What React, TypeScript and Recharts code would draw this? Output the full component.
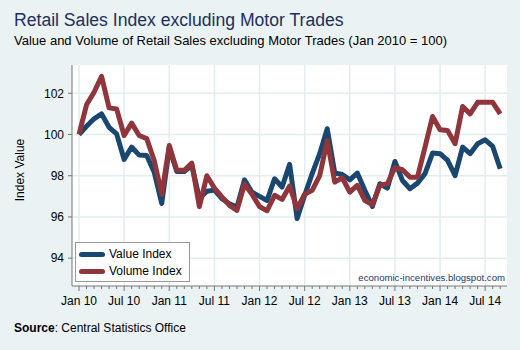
import React from "react";
import { LineChart, Line, XAxis, YAxis, CartesianGrid } from "recharts";

// monthly, Jan 2010 .. Sep 2014
const months = [
    "Jan 10", "Feb 10", "Mar 10", "Apr 10", "May 10", "Jun 10", "Jul 10", "Aug 10", "Sep 10", "Oct 10", "Nov 10", "Dec 10",
    "Jan 11", "Feb 11", "Mar 11", "Apr 11", "May 11", "Jun 11", "Jul 11", "Aug 11", "Sep 11", "Oct 11", "Nov 11", "Dec 11",
    "Jan 12", "Feb 12", "Mar 12", "Apr 12", "May 12", "Jun 12", "Jul 12", "Aug 12", "Sep 12", "Oct 12", "Nov 12", "Dec 12",
    "Jan 13", "Feb 13", "Mar 13", "Apr 13", "May 13", "Jun 13", "Jul 13", "Aug 13", "Sep 13", "Oct 13", "Nov 13", "Dec 13",
    "Jan 14", "Feb 14", "Mar 14", "Apr 14", "May 14", "Jun 14", "Jul 14", "Aug 14", "Sep 14",
];

const valueIndex = [
    100, 100.4, 100.76, 101.0, 100.35, 100.03, 98.79, 99.39, 99.0, 98.98, 98.17, 96.65,
    99.35, 98.2, 98.2, 98.5, 96.9, 97.25, 97.3, 96.89, 96.64, 96.48, 97.8, 97.2,
    97.0, 96.8, 97.85, 97.45, 98.55, 95.92, 97.05, 98.1, 99.07, 100.28, 98.13, 98.06,
    97.8, 98.13, 97.29, 96.51, 97.61, 97.4, 98.69, 97.77, 97.37, 97.64, 98.1, 99.1,
    99.07, 98.74, 98.0, 99.39, 99.07, 99.55, 99.74, 99.42, 98.34,
];

const volumeIndex = [
    100, 101.44, 102.05, 102.82, 101.29, 101.24, 99.95, 100.55, 99.95, 99.8, 98.74, 97.1,
    99.47, 98.26, 98.26, 98.61, 96.5, 98.0, 97.4, 96.97, 96.56, 96.32, 97.6, 97.1,
    96.5, 96.3, 97.05, 96.85, 97.5, 96.4, 97.1, 97.29, 98.0, 99.7, 97.69, 97.9,
    97.2, 97.53, 96.8, 96.6, 97.53, 97.61, 98.39, 98.29, 97.93, 97.93, 99.39, 100.87,
    100.23, 100.19, 99.55, 101.36, 101.0, 101.56, 101.56, 101.56, 101.0,
];

const tickLabels = ["Jan 10", "Jul 10", "Jan 11", "Jul 11", "Jan 12", "Jul 12", "Jan 13", "Jul 13", "Jan 14", "Jul 14"];
const yTicks = [94, 96, 98, 100, 102];

const data = months.map((m, i) => ({ i, month: m, value: valueIndex[i], volume: volumeIndex[i] }));
const monthTicks = months.map((_, i) => i);
const majorTicks = months.map((m, i) => (tickLabels.includes(m) ? i : -1)).filter((i) => i >= 0);

const BG = "#eaf2f3";
const GRID = "#e3edf0";
const BLUE = "#1a476f";
const RED = "#90353b";
const FONT = "'Liberation Sans', Arial, sans-serif";

function MonthTick(props: any) {
    const { x, y, payload } = props;
    const label = months[payload.value];
    const major = tickLabels.includes(label);
    return (
        <g>
            <line x1={x} y1={y} x2={x} y2={y + (major ? 5 : 3)} stroke="#777" strokeWidth={1} />
            {major && (
                <text x={x} y={y + 19} textAnchor="middle" fontSize={12} fill="#000" fontFamily={FONT}>
                    {label}
                </text>
            )}
        </g>
    );
}

export default function App() {
    return (
        <div
            style={{
                position: "absolute",
                left: 0,
                top: 0,
                width: 520,
                height: 350,
                background: BG,
                fontFamily: FONT,
                overflow: "hidden",
            }}
        >
            <div style={{ position: "absolute", left: 14, top: 10, fontSize: 17.6, color: "#1c2f5a", whiteSpace: "nowrap" }}>
                Retail Sales Index excluding Motor Trades
            </div>
            <div style={{ position: "absolute", left: 14, top: 33, fontSize: 13, color: "#000", whiteSpace: "nowrap" }}>
                Value and Volume of Retail Sales excluding Motor Trades (Jan 2010 = 100)
            </div>

            <LineChart width={520} height={350} data={data} margin={{ top: 65, right: 13, bottom: 0, left: 12 }}>
                <CartesianGrid
                    fill="#ffffff"
                    stroke={GRID}
                    strokeWidth={1.5}
                    horizontalValues={yTicks}
                    verticalValues={majorTicks}
                />
                <XAxis
                    dataKey="i"
                    type="number"
                    domain={[-0.93, 56.9]}
                    ticks={monthTicks}
                    interval={0}
                    height={64}
                    tickSize={0}
                    tickMargin={0}
                    tick={<MonthTick />}
                    tickLine={false}
                    axisLine={{ stroke: "#777" }}
                    allowDataOverflow
                />
                <YAxis
                    type="number"
                    domain={[92.65, 103.37]}
                    ticks={yTicks}
                    width={60}
                    tickSize={4}
                    tickMargin={4}
                    tickLine={{ stroke: "#777" }}
                    axisLine={{ stroke: "#777" }}
                    tick={{ fontSize: 12, fill: "#000", fontFamily: FONT }}
                    allowDataOverflow
                />
                <Line
                    type="linear"
                    dataKey="value"
                    stroke={BLUE}
                    strokeWidth={5}
                    strokeLinejoin="round"
                    dot={false}
                    isAnimationActive={false}
                />
                <Line
                    type="linear"
                    dataKey="volume"
                    stroke={RED}
                    strokeWidth={5}
                    strokeLinejoin="round"
                    dot={false}
                    isAnimationActive={false}
                />
            </LineChart>

            <div
                style={{
                    position: "absolute",
                    left: 20,
                    top: 170,
                    fontSize: 12,
                    color: "#000",
                    whiteSpace: "nowrap",
                    transform: "translate(-50%, -50%) rotate(-90deg)",
                }}
            >
                Index Value
            </div>

            <div
                style={{
                    position: "absolute",
                    left: 75,
                    top: 242,
                    width: 113,
                    height: 38,
                    background: "#fff",
                    border: "1px solid #999",
                    fontSize: 12,
                    color: "#000",
                }}
            >
                {[
                    { name: "Value Index", color: BLUE },
                    { name: "Volume Index", color: RED },
                ].map((item, k) => (
                    <div key={item.name} style={{ position: "absolute", left: 3, top: 4 + k * 17, display: "flex", alignItems: "center" }}>
                        <div style={{ width: 26, height: 5, borderRadius: 3, background: item.color, marginRight: 4 }} />
                        <span style={{ lineHeight: "14px", whiteSpace: "nowrap" }}>{item.name}</span>
                    </div>
                ))}
            </div>

            <div style={{ position: "absolute", right: 15, top: 272, fontSize: 9.6, color: "#1a3a6f", whiteSpace: "nowrap" }}>
                economic-incentives.blogspot.com
            </div>

            <div style={{ position: "absolute", left: 14, top: 321, fontSize: 12, color: "#000", whiteSpace: "nowrap" }}>
                <b>Source</b>: Central Statistics Office
            </div>
        </div>
    );
}
